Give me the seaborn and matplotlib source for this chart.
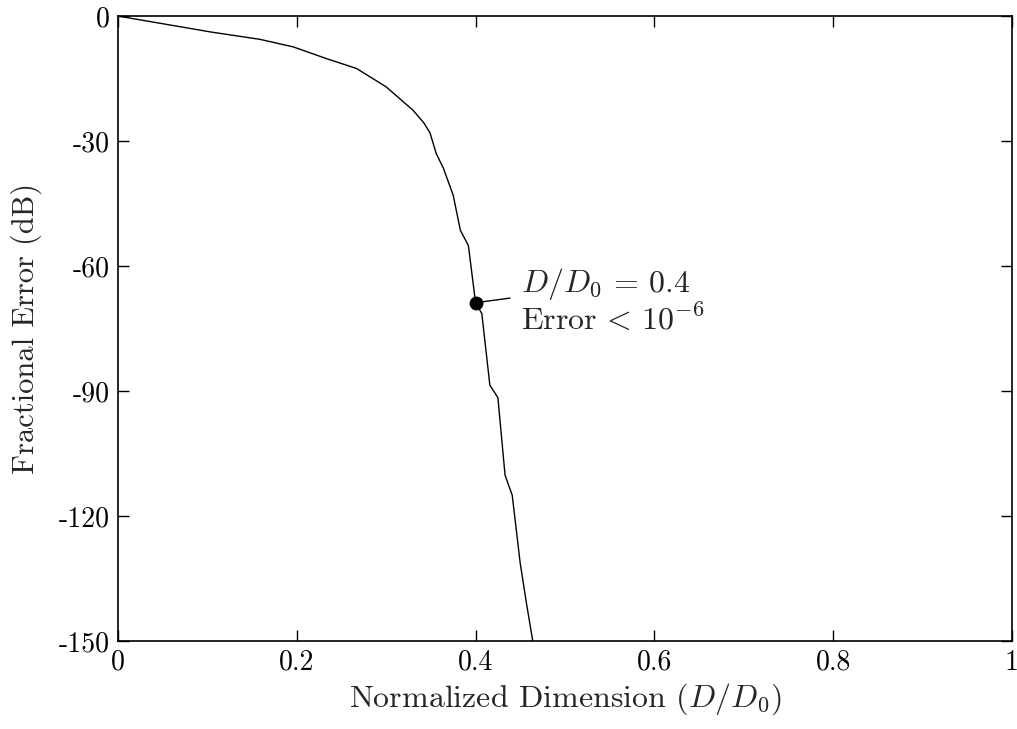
import matplotlib
matplotlib.use("Agg")
import matplotlib.pyplot as plt
import seaborn as sns
import pandas as pd

# Data
dim = [0.0, 0.103, 0.159, 0.196, 0.233, 0.267, 0.300, 0.330, 0.342, 0.349,
       0.356, 0.364, 0.375, 0.383, 0.392, 0.400, 0.407, 0.416, 0.425, 0.433,
       0.441, 0.450, 0.457, 0.464, 0.468]
err = [0.0, -3.8, -5.6, -7.4, -10.2, -12.6, -17.0, -22.6, -25.6, -28.0,
       -33.0, -36.5, -43.0, -51.4, -55.1, -68.8, -71.4, -88.6, -91.6, -110.2,
       -115.0, -131.4, -141.0, -150.0, -153.0]
mark_x = [0.4]
mark_y = [-68.8]
xticks = [0, 0.2, 0.4, 0.6, 0.8, 1.0]
xticklabels = ["0", "0.2", "0.4", "0.6", "0.8", "1"]
yticks = [0, -30, -60, -90, -120, -150]
yticklabels = ["0", "-30", "-60", "-90", "-120", "-150"]

sns.set_theme(style="ticks")
plt.rcParams["font.family"] = ["serif"]
plt.rcParams["font.serif"] = ["cmr10", "DejaVu Serif"]
plt.rcParams["mathtext.fontset"] = "cm"
plt.rcParams["axes.unicode_minus"] = False

fig = plt.figure(figsize=(10.17, 7.29), dpi=100)
ax = fig.add_axes([0.116, 0.1207, 0.879, 0.8573])

df = pd.DataFrame({"x": dim, "y": err})
sns.lineplot(data=df, x="x", y="y", ax=ax, color="black", linewidth=1.0,
             sort=False, estimator=None)
ax.plot(mark_x, mark_y, "o", color="black", markersize=9, zorder=5)
ax.annotate("", xy=(mark_x[0], mark_y[0]), xytext=(0.4385, -67.7),
            arrowprops=dict(arrowstyle="-", color="black", lw=1.0,
                            shrinkA=0, shrinkB=0))
ax.text(0.451, -66.2, r"$D/D_0\,=\,0.4$", fontsize=23, va="baseline", ha="left")
ax.text(0.451, -75.4, r"Error$\,<\,10^{-6}$", fontsize=23, va="baseline", ha="left")

ax.set_xlim(0, 1)
ax.set_ylim(-150, 0)
ax.set_xticks(xticks)
ax.set_xticklabels(xticklabels)
ax.set_yticks(yticks)
ax.set_yticklabels(yticklabels)
ax.tick_params(direction="in", length=8, width=1.0, top=True, right=True,
               labelsize=20, colors="black", pad=6)
for s in ax.spines.values():
    s.set_visible(True)
    s.set_linewidth(1.2)
    s.set_color("black")
ax.set_xlabel(r"Normalized Dimension ($D/D_0$)", fontsize=23, labelpad=4)
ax.set_ylabel("Fractional Error (dB)", fontsize=22, labelpad=12)
ax.grid(False)

fig.savefig("out.png", dpi=100)
